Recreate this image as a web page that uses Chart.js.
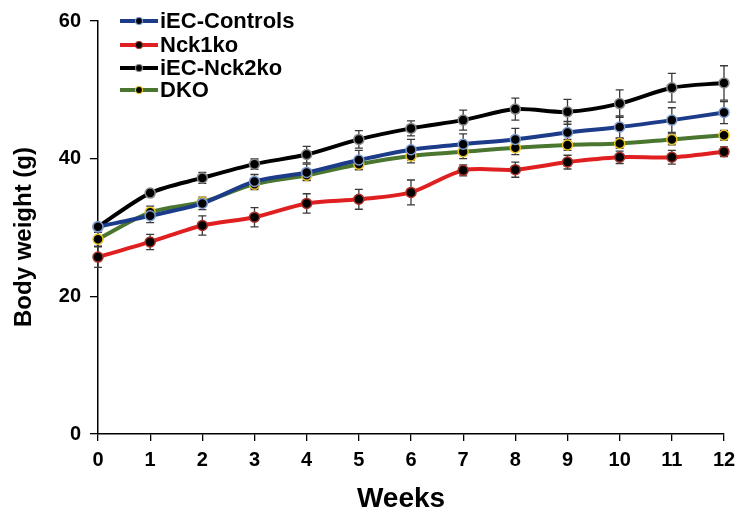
<!DOCTYPE html>
<html>
<head>
<meta charset="utf-8">
<script src="https://cdn.jsdelivr.net/npm/chart.js@4.4.1/dist/chart.umd.min.js"></script>
<style>
html,body{margin:0;padding:0;background:#fff;}
#wrap{width:739px;height:514px;position:relative;}
</style>
</head>
<body>
<div id="wrap"><canvas id="c" width="739" height="514"></canvas></div>
<script>
const weeks = ["0","1","2","3","4","5","6","7","8","9","10","11","12"];
const seriesNames = ["iEC-Controls","Nck1ko","iEC-Nck2ko","DKO"];
const controls = [30.1, 31.7, 33.5, 36.7, 38.0, 39.8, 41.3, 42.1, 42.8, 43.8, 44.6, 45.6, 46.7];
const nck1 = [25.7, 27.9, 30.3, 31.5, 33.5, 34.1, 35.1, 38.3, 38.4, 39.5, 40.2, 40.2, 41.0];
const nck2 = [30.1, 35.0, 37.2, 39.2, 40.6, 42.8, 44.4, 45.6, 47.2, 46.8, 48.0, 50.3, 51.0];
const dko = [28.3, 32.2, 33.7, 36.3, 37.6, 39.2, 40.4, 41.0, 41.6, 42.0, 42.2, 42.8, 43.4];
const controlsErr = [0.5, 1.0, 0.9, 1.0, 1.2, 1.4, 1.5, 1.5, 1.6, 1.6, 1.6, 1.8, 1.6];
const nck1Err = [1.5, 1.1, 1.4, 1.4, 1.4, 1.45, 1.8, 0.8, 1.1, 1.0, 0.9, 1.0, 0.7];
const nck2Err = [0.5, 0.5, 0.8, 0.75, 1.2, 1.26, 1.1, 1.45, 1.6, 1.8, 2.0, 2.1, 2.5];
const dkoErr = [1.0, 0.9, 0.5, 0.8, 0.7, 0.8, 1.0, 1.0, 1.0, 0.8, 0.7, 0.8, 0.7];
const yTicks = [0, 20, 40, 60];
const yTitle = "Body weight (g)";
const xTitle = "Weeks";

const FONT = "'Liberation Sans', Arial, sans-serif";

function ds(label, data, err, color, ptBorder) {
  return {
    label, data, err,
    borderColor: color, backgroundColor: color,
    borderWidth: 4, tension: 0.3,
    pointRadius: 5, pointHoverRadius: 5,
    pointBackgroundColor: '#000', pointBorderColor: ptBorder, pointBorderWidth: 1.5
  };
}

const errorBars = {
  id: 'errorBars',
  beforeDatasetsDraw(chart) {
    const ctx = chart.ctx, y = chart.scales.y;
    ctx.save();
    ctx.strokeStyle = '#3a3a3a';
    ctx.lineWidth = 1.3;
    chart.data.datasets.forEach((d, di) => {
      const meta = chart.getDatasetMeta(di);
      meta.data.forEach((p, i) => {
        const e = d.err[i];
        const y1 = y.getPixelForValue(d.data[i] + e);
        const y2 = y.getPixelForValue(d.data[i] - e);
        ctx.beginPath();
        ctx.moveTo(p.x, y1); ctx.lineTo(p.x, y2);
        ctx.moveTo(p.x - 4, y1); ctx.lineTo(p.x + 4, y1);
        ctx.moveTo(p.x - 4, y2); ctx.lineTo(p.x + 4, y2);
        ctx.stroke();
      });
    });
    ctx.restore();
  }
};

const textParts = {
  id: 'textParts',
  afterDraw(chart) {
    const ctx = chart.ctx;
    ctx.save();
    const x0 = 120, x1 = 158, rows = [21, 45, 68, 90];
    chart.data.datasets.forEach((d, i) => {
      const yy = rows[i];
      ctx.strokeStyle = d.borderColor;
      ctx.lineWidth = 4;
      ctx.beginPath(); ctx.moveTo(x0, yy); ctx.lineTo(x1, yy); ctx.stroke();
      ctx.beginPath();
      ctx.arc((x0 + x1) / 2, yy, 3.5, 0, Math.PI * 2);
      ctx.fillStyle = '#000'; ctx.fill();
      ctx.lineWidth = 1.2; ctx.strokeStyle = d.pointBorderColor; ctx.stroke();
      ctx.fillStyle = '#000';
      ctx.font = "bold 22px " + FONT;
      ctx.textBaseline = 'middle';
      ctx.textAlign = 'left';
      ctx.fillText(d.label, x1 + 2, yy + 1);
    });
    // axis titles
    ctx.fillStyle = '#000';
    ctx.textAlign = 'center';
    ctx.textBaseline = 'alphabetic';
    ctx.font = "bold 28px " + FONT;
    ctx.fillText(xTitle, 401, 507);
    ctx.translate(31, 237);
    ctx.rotate(-Math.PI / 2);
    ctx.font = "bold 24px " + FONT;
    ctx.fillText(yTitle, 0, 0);
    ctx.restore();
  }
};

new Chart(document.getElementById('c'), {
  type: 'line',
  data: {
    labels: weeks,
    datasets: [
      ds(seriesNames[0], controls, controlsErr, '#1c3c8a', '#7d9bd0'),
      ds(seriesNames[1], nck1, nck1Err, '#e02020', '#a83228'),
      ds(seriesNames[2], nck2, nck2Err, '#000000', '#8a8a8a'),
      ds(seriesNames[3], dko, dkoErr, '#4a7630', '#e8c41c')
    ]
  },
  options: {
    responsive: false,
    animation: false,
    events: [],
    layout: { padding: { left: 0, top: 21, right: 15, bottom: 0 } },
    plugins: { legend: { display: false }, tooltip: { enabled: false } },
    scales: {
      x: {
        offset: false,
        afterFit(s) { s.height = 80; s.paddingRight = 0; s.paddingLeft = 0; },
        grid: { display: true, drawOnChartArea: false, drawTicks: true, tickLength: 7, color: '#000', lineWidth: 1.3 },
        border: { display: true, color: '#000', width: 1.5 },
        ticks: { color: '#000', font: { family: FONT, size: 20, weight: 'bold' }, padding: 7, maxRotation: 0 },
        title: { display: false }
      },
      y: {
        min: 0, max: 60,
        afterFit(s) { s.width = 98; s.paddingTop = 0; s.paddingBottom = 0; },
        afterBuildTicks(s) { s.ticks = yTicks.map(v => ({ value: v })); },
        grid: { display: true, drawOnChartArea: false, drawTicks: true, tickLength: 8, color: '#000', lineWidth: 1.3 },
        border: { display: true, color: '#000', width: 1.5 },
        ticks: { color: '#000', font: { family: FONT, size: 20, weight: 'bold' }, padding: 9 },
        title: { display: false }
      }
    }
  },
  plugins: [errorBars, textParts]
});
</script>
</body>
</html>
